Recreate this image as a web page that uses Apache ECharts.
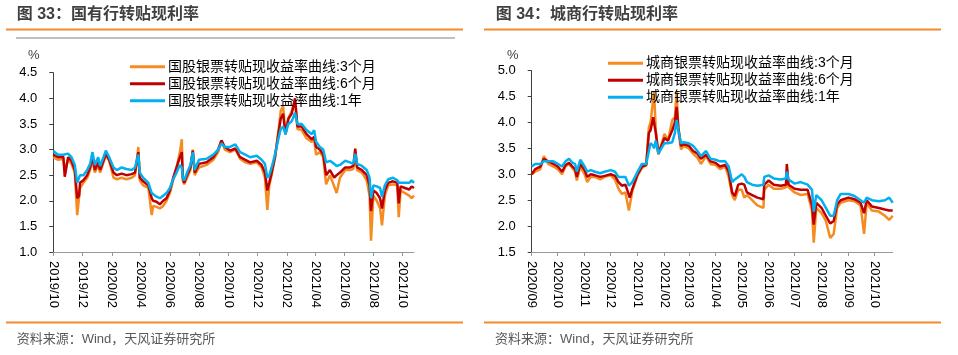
<!DOCTYPE html>
<html>
<head>
<meta charset="utf-8">
<script src="https://cdn.jsdelivr.net/npm/echarts@6/dist/echarts.min.js"></script>
<style>
html,body{margin:0;padding:0;background:#fff;}
#c{width:958px;height:355px;}
</style>
</head>
<body>
<div id="c"></div>
<script>
// ---------- Left chart: 国有行转贴现利率 ----------
const leftStart = '2019-10-01';
const leftEnd = '2021-10-25';
const leftTickLabels = ['2019/10','2019/12','2020/02','2020/04','2020/06','2020/08','2020/10','2020/12','2021/02','2021/04','2021/06','2021/08','2021/10'];
const leftNames = ['国股银票转贴现收益率曲线:3个月','国股银票转贴现收益率曲线:6个月','国股银票转贴现收益率曲线:1年'];
const leftDates = ['2019-10-01','2019-10-11','2019-10-22','2019-10-25','2019-11-01','2019-11-08','2019-11-15','2019-11-20','2019-11-24','2019-11-26',
'2019-12-03','2019-12-11','2019-12-17','2019-12-22','2019-12-27','2020-01-03','2020-01-07','2020-01-14','2020-01-19','2020-01-26',
'2020-02-04','2020-02-11','2020-02-21','2020-03-02','2020-03-13','2020-03-20','2020-03-27','2020-03-30','2020-04-06','2020-04-17',
'2020-04-24','2020-04-27','2020-05-04','2020-05-11','2020-05-18','2020-05-25','2020-06-01','2020-06-08','2020-06-15','2020-06-22',
'2020-06-26','2020-06-28','2020-07-01','2020-07-07','2020-07-14','2020-07-19','2020-07-23','2020-08-01','2020-08-17','2020-08-31',
'2020-09-10','2020-09-17','2020-09-24','2020-10-05','2020-10-16','2020-10-26','2020-11-06','2020-11-16','2020-11-30','2020-12-10',
'2020-12-17','2020-12-22','2020-12-26','2020-12-31','2021-01-07','2021-01-14','2021-01-19','2021-01-24','2021-01-29','2021-02-04',
'2021-02-11','2021-02-18','2021-02-23','2021-03-04','2021-03-14','2021-03-25','2021-03-30','2021-04-03','2021-04-11','2021-04-18',
'2021-04-24','2021-05-02','2021-05-11','2021-05-16','2021-05-23','2021-06-03','2021-06-13','2021-06-20','2021-06-24','2021-06-28',
'2021-07-08','2021-07-18','2021-07-24','2021-07-27','2021-08-01','2021-08-08','2021-08-15','2021-08-19','2021-08-25','2021-09-01',
'2021-09-11','2021-09-20','2021-09-23','2021-09-27','2021-10-06','2021-10-15','2021-10-20','2021-10-25'];
const leftY1 = [2.97,2.90,2.90,2.88,2.92,2.85,2.70,2.35,2.35,2.50,
2.50,2.60,2.72,2.95,2.70,2.85,2.68,2.85,2.98,2.85,
2.65,2.60,2.65,2.62,2.60,2.65,2.90,2.55,2.45,2.35,
2.15,2.15,2.08,2.05,2.10,2.15,2.25,2.42,2.55,2.70,
2.65,2.45,2.40,2.55,2.70,2.95,2.60,2.80,2.82,2.90,
3.00,3.12,3.05,3.05,3.10,2.95,2.90,2.85,2.88,2.80,
2.72,2.45,2.50,2.65,2.90,3.20,3.40,3.45,3.30,3.50,
3.55,3.72,3.50,3.50,3.38,3.30,3.38,3.15,3.05,3.00,
2.75,2.78,2.72,2.68,2.70,2.78,2.75,2.72,2.92,2.72,
2.68,2.60,2.45,2.05,2.30,2.28,2.25,2.08,2.30,2.42,
2.45,2.40,2.35,2.38,2.35,2.35,2.40,2.35];
const leftM6 = [2.90,2.85,2.86,2.47,2.85,2.78,2.60,2.05,2.10,2.35,
2.40,2.50,2.65,2.85,2.60,2.75,2.60,2.78,2.92,2.80,
2.55,2.50,2.53,2.50,2.52,2.55,2.95,2.45,2.38,2.30,
2.05,2.00,1.98,1.93,2.00,2.05,2.20,2.45,2.65,2.85,
2.95,2.45,2.35,2.50,2.65,2.98,2.55,2.72,2.75,2.85,
3.00,3.18,3.05,2.98,3.02,2.85,2.80,2.75,2.78,2.70,
2.55,2.20,2.35,2.55,2.85,3.30,3.60,3.70,3.30,3.60,
3.70,4.00,3.45,3.45,3.30,3.20,3.25,3.05,3.00,2.90,
2.50,2.60,2.45,2.50,2.55,2.65,2.65,2.68,3.02,2.65,
2.60,2.50,2.30,1.80,2.20,2.15,2.05,1.85,2.20,2.35,
2.38,2.35,1.95,2.28,2.25,2.22,2.28,2.25];
const leftM3 = [2.85,2.80,2.82,2.60,2.80,2.72,2.55,1.72,1.72,2.25,
2.35,2.45,2.60,2.80,2.55,2.70,2.55,2.75,2.88,2.78,
2.45,2.42,2.45,2.42,2.45,2.50,3.05,2.40,2.30,2.25,
1.72,1.90,1.88,1.85,1.90,2.00,2.15,2.40,2.65,2.95,
3.20,2.40,2.32,2.45,2.60,3.00,2.50,2.65,2.70,2.80,
2.95,3.18,3.00,2.95,3.00,2.82,2.75,2.72,2.75,2.65,
2.45,1.82,2.30,2.50,2.85,3.35,3.75,3.85,3.30,3.60,
3.75,3.95,3.40,3.38,3.22,3.15,3.20,2.90,2.95,2.85,
2.32,2.50,2.28,2.15,2.45,2.60,2.60,2.62,2.90,2.60,
2.55,2.40,2.10,1.22,2.10,2.00,1.85,1.52,2.10,2.30,
2.32,2.30,1.68,2.20,2.15,2.10,2.05,2.10];

// ---------- Right chart: 城商行转贴现利率 ----------
const rightStart = '2020-09-01';
const rightEnd = '2021-10-22';
const rightTickLabels = ['2020/09','2020/10','2020/11','2020/12','2021/01','2021/02','2021/03','2021/04','2021/05','2021/06','2021/07','2021/08','2021/09','2021/10'];
const rightNames = ['城商银票转贴现收益率曲线:3个月','城商银票转贴现收益率曲线:6个月','城商银票转贴现收益率曲线:1年'];
const rightDates = ['2020-09-01','2020-09-05','2020-09-11','2020-09-15','2020-09-20','2020-09-26','2020-10-01','2020-10-06','2020-10-10','2020-10-14',
'2020-10-18','2020-10-21','2020-10-23','2020-10-27','2020-11-01','2020-11-04','2020-11-08','2020-11-13','2020-11-19','2020-11-24',
'2020-12-01','2020-12-06','2020-12-10','2020-12-14','2020-12-18','2020-12-22','2020-12-23','2020-12-26','2021-01-01','2021-01-06',
'2021-01-11','2021-01-14','2021-01-16','2021-01-19','2021-01-20','2021-01-22','2021-01-25','2021-02-01','2021-02-05','2021-02-10',
'2021-02-13','2021-02-15','2021-02-17','2021-02-20','2021-02-23','2021-03-01','2021-03-06','2021-03-11','2021-03-15','2021-03-21',
'2021-03-26','2021-04-01','2021-04-06','2021-04-12','2021-04-16','2021-04-20','2021-04-23','2021-04-27','2021-05-01','2021-05-04',
'2021-05-07','2021-05-13','2021-05-19','2021-05-26','2021-05-27','2021-06-01','2021-06-07','2021-06-15','2021-06-21','2021-06-22',
'2021-06-24','2021-07-01','2021-07-08','2021-07-16','2021-07-21','2021-07-23','2021-07-26','2021-08-01','2021-08-06','2021-08-11',
'2021-08-15','2021-08-19','2021-08-23','2021-09-01','2021-09-08','2021-09-15','2021-09-19','2021-09-22','2021-09-28','2021-10-06',
'2021-10-13','2021-10-18','2021-10-22'];
const rightY1 = [3.15,3.20,3.20,3.25,3.25,3.25,3.20,3.15,3.25,3.30,
3.22,3.20,3.05,3.28,3.15,3.05,3.08,3.05,3.02,3.05,
3.08,3.05,2.95,2.95,2.95,2.78,2.75,2.85,3.05,3.20,
3.20,3.45,3.60,3.55,3.50,3.65,3.40,3.60,3.60,3.62,
3.80,4.05,3.85,3.60,3.62,3.60,3.55,3.45,3.35,3.45,
3.30,3.28,3.25,3.25,3.15,2.85,2.90,2.95,3.00,2.95,
2.85,2.80,2.78,2.80,2.95,2.98,2.92,2.90,2.92,3.05,
2.90,2.82,2.85,2.80,2.70,2.28,2.60,2.50,2.35,2.20,
2.20,2.50,2.62,2.62,2.58,2.50,2.45,2.55,2.50,2.48,
2.50,2.55,2.45];
const rightM6 = [3.00,3.10,3.15,3.30,3.25,3.20,3.15,3.05,3.18,3.22,
3.15,3.10,2.95,3.20,3.08,2.95,3.00,2.98,2.95,2.97,
3.00,2.97,2.85,2.78,2.80,2.60,2.55,2.72,3.00,3.15,
3.18,3.80,3.85,4.10,4.00,3.80,3.40,3.70,3.65,3.85,
4.00,4.30,3.90,3.55,3.58,3.55,3.45,3.40,3.30,3.38,
3.25,3.22,3.15,3.18,3.05,2.65,2.58,2.80,2.82,2.80,
2.65,2.60,2.55,2.52,2.80,2.88,2.80,2.78,2.80,3.20,
2.80,2.72,2.70,2.70,2.40,2.03,2.45,2.35,2.20,2.05,
2.10,2.42,2.50,2.55,2.52,2.45,2.25,2.50,2.38,2.35,
2.32,2.30,2.30];
const rightM3 = [3.00,3.05,3.10,3.35,3.20,3.15,3.10,3.00,3.15,3.20,
3.12,3.05,2.88,3.15,3.00,2.85,2.95,2.95,2.90,2.95,
2.98,2.90,2.72,2.62,2.65,2.30,2.28,2.68,2.98,3.12,
3.18,3.90,4.00,4.45,4.60,3.85,3.38,3.78,3.65,4.05,
4.10,4.60,3.85,3.48,3.55,3.50,3.40,3.32,3.20,3.35,
3.20,3.18,3.10,3.15,2.95,2.60,2.50,2.70,2.70,2.55,
2.60,2.50,2.40,2.35,2.70,2.80,2.72,2.72,2.75,3.00,
2.75,2.65,2.60,2.62,2.30,1.68,2.35,2.25,2.10,1.77,
1.85,2.35,2.45,2.50,2.48,2.40,1.85,2.45,2.30,2.28,
2.20,2.12,2.20];

// ---------- helpers ----------
function dayRange(start, end) {
  const out = [];
  const d = new Date(start + 'T00:00:00Z');
  const e = new Date(end + 'T00:00:00Z');
  while (d <= e) { out.push(d.toISOString().slice(0, 10)); d.setUTCDate(d.getUTCDate() + 1); }
  return out;
}
const leftDays = dayRange(leftStart, leftEnd);
const rightDays = dayRange(rightStart, rightEnd);
const fmtMonth = v => v.slice(0, 7).replace('-', '/');
const tickFn = labels => (idx, v) => v.slice(8) === '01' && labels.indexOf(fmtMonth(v)) >= 0;
function pairs(days, dates, vals) {
  return dates.map((d, i) => [days.indexOf(d), vals[i]]);
}

const ORANGE = '#F68B22', RED = '#C00000', BLUE = '#00B0F0';
const FONT = '"Liberation Sans", Arial, "Noto Sans CJK SC", sans-serif';
const colors = [ORANGE, RED, BLUE];

function xAxisCfg(gi, days, labels) {
  return {
    type: 'category', gridIndex: gi, data: days, boundaryGap: false,
    axisLine: { show: true, lineStyle: { color: '#999999', width: 1 } },
    axisTick: { show: true, interval: tickFn(labels), length: 4, lineStyle: { color: '#999999' } },
    axisLabel: { interval: tickFn(labels), rotate: -90, formatter: fmtMonth, fontSize: 13,
      fontFamily: FONT, color: '#000000', margin: 9 },
    splitLine: { show: false }
  };
}
function yAxisCfg(gi, min, max) {
  return {
    type: 'value', gridIndex: gi, min: min, max: max, interval: 0.5,
    axisLine: { show: true, lineStyle: { color: '#404040', width: 1 } },
    axisTick: { show: true, length: 4, lineStyle: { color: '#404040' } },
    axisLabel: { formatter: v => v.toFixed(1), fontSize: 13, fontFamily: FONT, color: '#000000', margin: 16 },
    splitLine: { show: false }
  };
}
function seriesCfg(names, days, dates, arrs, gi) {
  return names.map((n, i) => ({
    name: n, type: 'line', xAxisIndex: gi, yAxisIndex: gi,
    data: pairs(days, dates, arrs[i]),
    showSymbol: false, symbol: 'none',
    lineStyle: { color: colors[i], width: 2.5 },
    itemStyle: { color: colors[i] },
    emphasis: { disabled: true }
  }));
}
function legendCfg(names, left, top) {
  return {
    orient: 'vertical', left: left, top: top, icon: 'rect', itemWidth: 35, itemHeight: 3, itemGap: 3,
    data: names, selectedMode: false,
    textStyle: { fontSize: 14, fontFamily: FONT, color: '#000000', lineHeight: 14, padding: [0, 0, 0, -2] }
  };
}
function txt(x, y, text, size, color, weight) {
  return { type: 'text', x: x, y: y, silent: true,
    style: { text: text, fill: color, font: (weight || 'normal') + ' ' + size + 'px ' + FONT,
      verticalAlign: 'middle', textVerticalAlign: 'middle' } };
}
function bar(x, y, w, h, c) {
  return { type: 'rect', silent: true, shape: { x: x, y: y, width: w, height: h }, style: { fill: c } };
}

const chart = echarts.init(document.getElementById('c'), null, { renderer: 'canvas' });
chart.setOption({
  animation: false,
  backgroundColor: '#ffffff',
  grid: [
    { left: 53.3, top: 72.7, width: 360.7, height: 179.3 },
    { left: 531.7, top: 70.7, width: 361, height: 181.3 }
  ],
  xAxis: [xAxisCfg(0, leftDays, leftTickLabels), xAxisCfg(1, rightDays, rightTickLabels)],
  yAxis: [yAxisCfg(0, 1, 4.5), yAxisCfg(1, 1.5, 5)],
  legend: [legendCfg(leftNames, 125, 54.7), legendCfg(rightNames, 603, 51.3)],
  series: seriesCfg(leftNames, leftDays, leftDates, [leftM3, leftM6, leftY1], 0)
    .concat(seriesCfg(rightNames, rightDays, rightDates, [rightM3, rightM6, rightY1], 1)),
  graphic: [
    txt(16.7, 15, '图 33：国有行转贴现利率', 16, '#404040', 'bold'),
    txt(495.7, 15, '图 34：城商行转贴现利率', 16, '#404040', 'bold'),
    bar(6, 28.5, 457, 2, '#F28A2E'),
    bar(16, 37, 439, 2, '#BFBFBF'),
    bar(484, 28.5, 457, 2, '#F28A2E'),
    bar(6, 321.5, 457, 2, '#F28A2E'),
    bar(484, 321.5, 457, 2, '#F28A2E'),
    txt(28, 55, '%', 13, '#404040'),
    txt(507, 55, '%', 13, '#404040'),
    txt(16.7, 339, '资料来源：Wind，天风证券研究所', 13, '#595959'),
    txt(495, 339, '资料来源：Wind，天风证券研究所', 13, '#595959')
  ]
});
</script>
</body>
</html>
